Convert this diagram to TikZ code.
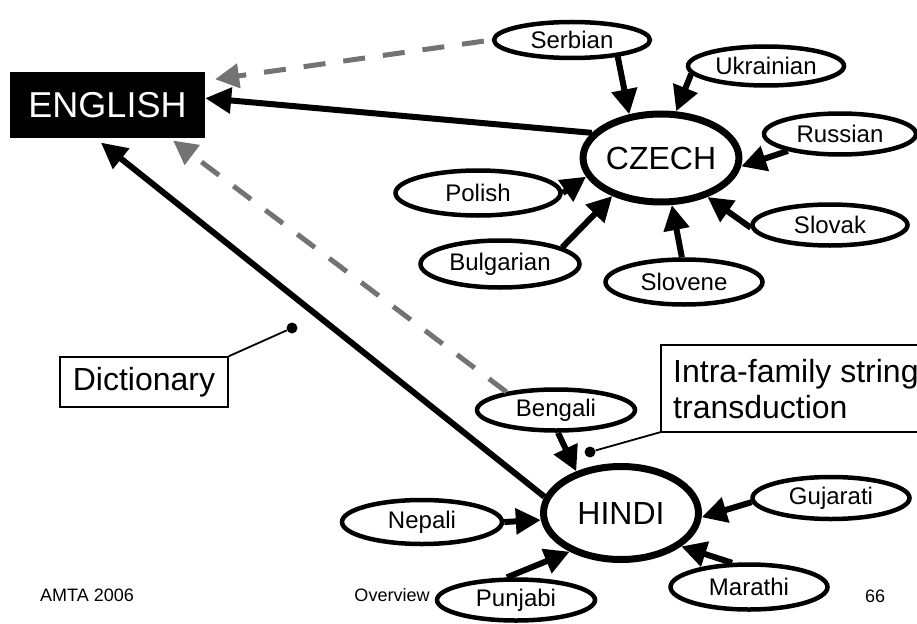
\documentclass[tikz,border=0pt]{standalone}
\usepackage{fontspec}
\setmainfont{Liberation Sans}
\usetikzlibrary{shapes.geometric,arrows.meta}

\tikzset{
  lang/.style={ellipse, draw, line width=4.5pt, inner sep=0pt,
    minimum width=156pt, minimum height=41pt,
    font=\fontsize{24}{26}\selectfont},
  hub/.style={ellipse, draw, line width=7pt, inner sep=0pt,
    minimum width=155pt, minimum height=88pt,
    font=\fontsize{32}{36}\selectfont},
  feed/.style={line width=6pt, -{Triangle[length=25pt,width=25pt]}},
  toeng/.style={line width=6pt, -{Triangle[length=26pt,width=25pt]}},
  guess/.style={line width=5pt, black!55, dash pattern=on 22pt off 18pt,
    -{Triangle[length=24pt,width=24pt,fill=black!55]}},
  callout/.style={draw, line width=1.5pt, inner sep=0pt},
  pin dot/.style={circle, fill=black, inner sep=0pt, minimum size=11pt},
  lead/.style={line width=1.8pt},
  footer/.style={font=\fontsize{18}{20}\selectfont}
}

\begin{document}
\begin{tikzpicture}[x=1pt,y=-1pt]
\useasboundingbox (0,0) rectangle (917,623);

% target language
\node[fill=black, text=white, minimum width=195pt, minimum height=66pt,
      inner sep=0pt, font=\fontsize{36}{40}\selectfont] (english) at (107.5,105) {ENGLISH};

% Slavic family
\node[hub] (czech) at (661,158) {CZECH};
\node[lang, minimum height=36pt] (serbian) at (572,40) {Serbian};
\node[lang, minimum height=39pt] (ukrainian) at (766,66) {Ukrainian};
\node[lang, minimum width=152pt] (russian) at (840,134) {Russian};
\node[lang, minimum width=165pt, minimum height=45pt] (polish) at (478,193) {Polish};
\node[lang, minimum width=159pt, minimum height=47pt] (bulgarian) at (500,264) {Bulgarian};
\node[lang, minimum width=157pt, minimum height=45pt] (slovene) at (684,282) {Slovene};
\node[lang, minimum width=155pt] (slovak) at (830,225) {Slovak};

% Indic family
\node[hub, minimum height=93pt] (hindi) at (621,513) {HINDI};
\node[lang, minimum width=158pt] (bengali) at (556,410) {Bengali};
\node[lang, minimum width=157pt, minimum height=42pt] (gujarati) at (831,498) {Gujarati};
\node[lang, minimum width=157pt, minimum height=45pt] (marathi) at (749,587) {Marathi};
\node[lang, minimum width=160pt, minimum height=44pt] (nepali) at (422,522) {Nepali};
\node[lang, minimum width=158pt] (punjabi) at (516,600) {Punjabi};

% transfer into the hubs
\draw[feed] (serbian.-20) -- (czech.126);
\draw[feed] (ukrainian.186) -- (czech.72);
\draw[feed] (russian.198) -- (czech.-6);
\draw[feed] (polish.east) -- (czech.194);
\draw[feed] (bulgarian.15) -- (czech.218);
\draw[feed] (slovene.95) -- (czech.-77);
\draw[feed] (slovak.182) -- (czech.-40);

\draw[feed] (bengali.-85) -- (hindi.137);
\draw[feed] (nepali.east) -- (hindi.185);
\draw[feed] (punjabi.112) -- (hindi.217);
\draw[feed] (gujarati.183) -- (hindi.-3);
\draw[feed] (marathi.125) -- (hindi.-29);

% hubs to English
\draw[toeng] (czech.160) -- (english.4.7);
\draw[toeng, shorten >=7pt] (hindi.168) -- (english.-110);

% direct (dashed) paths
\draw[guess, shorten <=8pt, shorten >=10pt] (serbian.180) -- (english.14);
\draw[guess, shorten >=4pt] (bengali.160) -- (english.-28);

% callouts
\node[callout, minimum width=168pt, minimum height=50pt,
      font=\fontsize{32}{36}\selectfont] (dict) at (144,382) {Dictionary};
\node[pin dot] (dictdot) at (292,328) {};
\draw[lead] (dict.north east) -- (dictdot);

\draw[line width=1.5pt] (917,345) -| (661,432) -- (917,432);
\coordinate (intracorner) at (661,432);
\node[anchor=base west, inner sep=0pt, font=\fontsize{32}{36}\selectfont]
  (intra1) at (673,382) {Intra-family string};
\node[anchor=base west, inner sep=0pt, font=\fontsize{32}{36}\selectfont]
  (intra2) at (673,418) {transduction};
\node[pin dot] (intradot) at (590,452) {};
\draw[lead] (intracorner) -- (intradot);

% slide footer
\node[footer] (conf) at (87,595) {AMTA 2006};
\node[footer] (topic) at (392,595) {Overview};
\node[footer] (page) at (875,596) {66};
\end{tikzpicture}
\end{document}
